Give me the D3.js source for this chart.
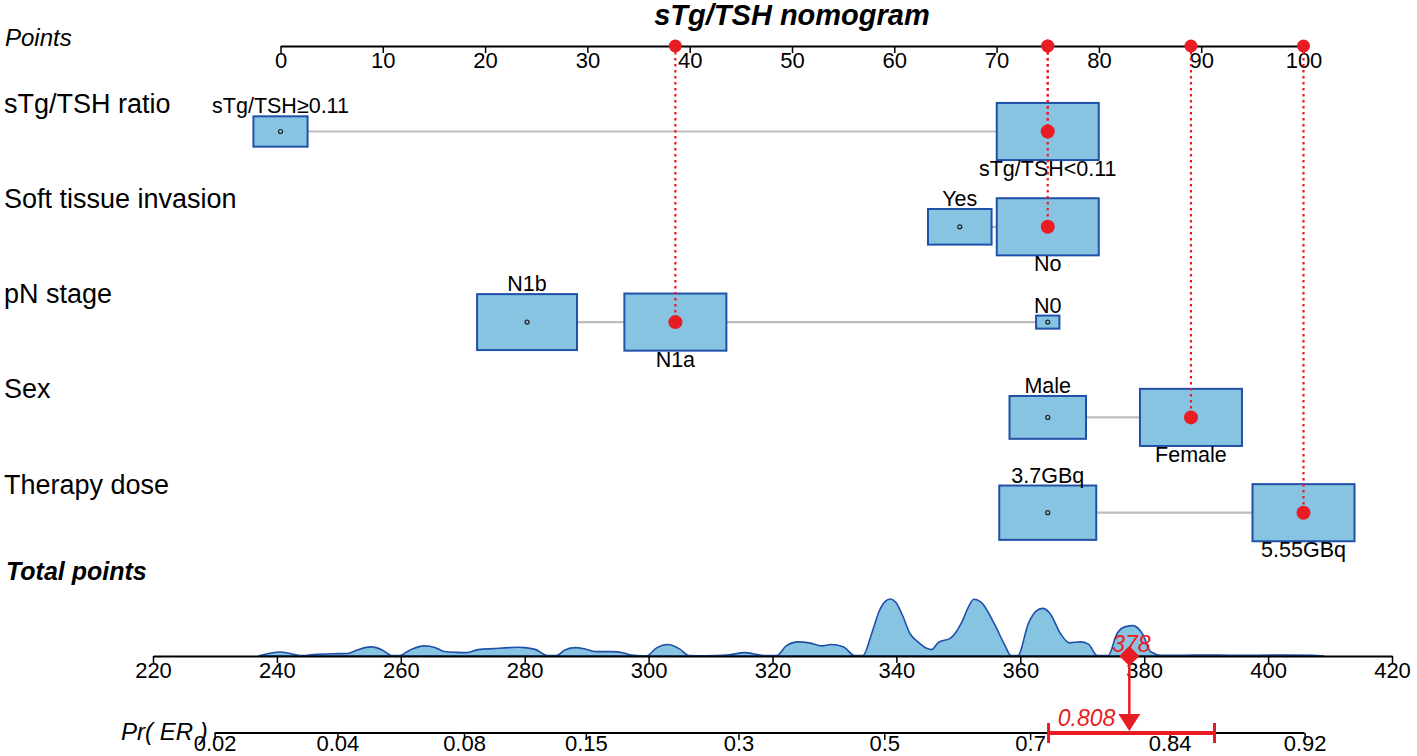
<!DOCTYPE html>
<html>
<head>
<meta charset="utf-8">
<script src="https://cdn.jsdelivr.net/npm/d3@7"></script>
<style>
  body { margin: 0; background: #fff; }
  svg { display: block; }
</style>
</head>
<body>
<div id="chart"></div>
<script>
/* global d3 */

//---------------------Data

const variables = ["sTg/TSH ratio", "Soft tissue invasion", "pN stage", "Sex", "Therapy dose"]

// levels per variable, in drawing order (label alternates above / below)
const levelNames = [
  ["sTg/TSH\u22650.11", "sTg/TSH<0.11"],
  ["Yes", "No"],
  ["N1b", "N1a", "N0"],
  ["Male", "Female"],
  ["3.7GBq", "5.55GBq"]
]

// points given to each level
const levelPoints = [
  [0, 75],
  [66.4, 75],
  [24.1, 38.6, 75],
  [75, 89],
  [75, 100]
]

// share of patients in each level (%), gives the box size
const levelShare = [
  [22, 78],
  [28, 72],
  [47.7, 49.7, 2.6],
  [36, 64],
  [47.5, 52.5]
]

// the patient shown in red
const selectedLevel = ["sTg/TSH<0.11", "No", "N1a", "Female", "5.55GBq"]

const pointTicks = [0, 10, 20, 30, 40, 50, 60, 70, 80, 90, 100]
const totalTicks = [220, 240, 260, 280, 300, 320, 340, 360, 380, 400, 420]
const probTicks = [0.02, 0.04, 0.08, 0.15, 0.3, 0.5, 0.7, 0.84, 0.92]

// logistic link between total points and Pr(ER)
const logitSlope = 0.036
const logitMid = 338.05

const predProb = 0.808
const ciLow = 0.722
const ciHigh = 0.872

// distribution of total points (relative density)
const densityTotals = [237, 240.6, 244, 246, 250, 251.4, 253, 255.2, 257, 258.5,
  259.8, 261.5, 263.8, 265.5, 267, 269, 270.6, 272.5, 275, 277.5, 279, 280, 281.8, 283.7,
  285.1, 286.5, 288.2, 290, 291.6, 294, 296, 297.2, 299, 299.7, 301.3, 303.1, 305, 306.5,
  309, 312.7, 315.5, 318.6, 320.7, 322.2, 324.2, 325.9, 328, 329.4, 331.5, 333.2,
  334.6, 336, 337.2, 338.2, 339, 339.9, 341, 342.2, 343.3, 345, 345.7, 346.7, 348.8, 350.6,
  351.6, 352.5, 353.7, 355.8, 357.5, 358.5, 359.6, 361.3, 362.5, 363.6, 364.8, 366.5, 367.9,
  369.7, 371, 372.4, 374.2, 375.6, 377, 378.2, 379.7, 381.1, 382.8, 386, 390, 394, 398,
  403, 407, 409]
const densityValues = [0, 4, 0.5, 1.5, 2.3, 2.5, 6, 9, 6, 0.5,
  0.5, 6, 10, 8.5, 4.5, 3.6, 3.3, 6.3, 7.3, 8.3, 8.7, 8.3, 6.3, 0.5,
  0.5, 6, 8.3, 6.5, 4.3, 4.3, 3, 1, 0.3, 0.3, 8, 11.3, 7, 0.5,
  0.3, 1, 3.3, 0.5, 0.5, 10, 14, 13, 10, 11.3, 9, 0.5,
  0.5, 22, 44, 54, 56.3, 53, 40, 22, 15, 7.3, 6.3, 13, 18, 34,
  48, 56, 53, 32, 10.7, 0.5, 0.5, 32, 44, 47, 42, 22, 13,
  14, 11.7, 0.5, 0.5, 22, 29, 30, 22, 4, 0.7, 0.7, 1, 0.7, 0.7,
  1, 0.8, 0]

function draw () {

  //-----------------------Dimensions

  const dimensions = {
    width: 1417,
    height: 756,
    pointsLeft: 280.5,
    pointsRight: 1303.5,
    totalLeft: 153,
    totalRight: 1392,
    pointsAxisY: 46,
    firstRowY: 131.5,
    lastRowY: 512.7,
    totalAxisY: 656,
    probAxisY: 733,
    densityHeight: 57,
    boxMaxWidth: 102,
    boxAspect: 0.56
  }

  const font = "'Liberation Sans', Arial, Helvetica, sans-serif"
  const red = "#e91c24"
  const boxFill = "#87c4e2"
  const boxStroke = "#2050a8"

  const svg = d3.select("#chart")
    .append("svg")
    .attr("width", dimensions.width)
    .attr("height", dimensions.height)
    .style("font-family", font)

  //-----------------------Scales

  const xPoints = d3.scaleLinear()
    .domain([0, 100])
    .range([dimensions.pointsLeft, dimensions.pointsRight])

  const xTotal = d3.scaleLinear()
    .domain([220, 420])
    .range([dimensions.totalLeft, dimensions.totalRight])

  const logit = p => Math.log(p / (1 - p))

  // logit(Pr) is linear in total points
  const xLogit = d3.scaleLinear()
    .domain(xTotal.domain().map(t => logitSlope * (t - logitMid)))
    .range(xTotal.range())

  const xProb = p => xLogit(logit(p))

  const yRow = d3.scalePoint()
    .domain(variables)
    .range([dimensions.firstRowY, dimensions.lastRowY])

  const boxScale = d3.scaleSqrt()
    .domain([0, 1])
    .range([0, dimensions.boxMaxWidth])

  const yDensity = d3.scaleLinear()
    .domain([0, d3.max(densityValues)])
    .range([dimensions.totalAxisY, dimensions.totalAxisY - dimensions.densityHeight])

  //-----------------------Title

  svg.append("text")
    .attr("x", (dimensions.pointsLeft + dimensions.pointsRight) / 2)
    .attr("y", 25)
    .attr("text-anchor", "middle")
    .style("font-size", "29px")
    .style("font-weight", "bold")
    .style("font-style", "italic")
    .text("sTg/TSH nomogram")

  //-----------------------Row labels

  svg.append("text")
    .attr("x", 5)
    .attr("y", dimensions.pointsAxisY)
    .style("font-size", "24px")
    .style("font-style", "italic")
    .text("Points")

  svg.selectAll(".row-label")
    .data(variables)
    .join("text")
    .attr("class", "row-label")
    .attr("x", 4)
    .attr("y", d => yRow(d) - 19)
    .style("font-size", "27px")
    .text(d => d)

  svg.append("text")
    .attr("x", 6)
    .attr("y", 580)
    .style("font-size", "25px")
    .style("font-weight", "bold")
    .style("font-style", "italic")
    .text("Total points")

  svg.append("text")
    .attr("x", 121)
    .attr("y", 740)
    .style("font-size", "24px")
    .style("font-style", "italic")
    .text("Pr( ER )")

  //-----------------------Points axis

  const pointsAxis = d3.axisBottom(xPoints)
    .tickValues(pointTicks)
    .tickSize(7)
    .tickSizeOuter(0)
    .tickPadding(-1)

  const gPoints = svg.append("g")
    .attr("transform", `translate(0,${dimensions.pointsAxisY})`)
    .call(pointsAxis)
    .attr("font-family", font)
    .attr("font-size", 22)
  gPoints.select(".domain").attr("stroke-width", 2)
  gPoints.selectAll(".tick line").attr("stroke-width", 1.5)

  //-----------------------Predictor rows

  variables.forEach((v, i) => {
    const y = yRow(v)
    const levels = levelNames[i].map((name, j) => ({
      name,
      points: levelPoints[i][j],
      share: levelShare[i][j] / d3.max(levelShare[i]),
      above: j % 2 === 0
    }))

    const row = svg.append("g").attr("class", "row")

    // grey connector
    row.append("line")
      .attr("x1", xPoints(d3.min(levels, d => d.points)))
      .attr("x2", xPoints(d3.max(levels, d => d.points)))
      .attr("y1", y)
      .attr("y2", y)
      .attr("stroke", "#bdbdbd")
      .attr("stroke-width", 2.2)

    const lev = row.selectAll("g")
      .data(levels)
      .join("g")

    lev.append("rect")
      .attr("x", d => xPoints(d.points) - boxScale(d.share) / 2)
      .attr("y", d => y - boxScale(d.share) * dimensions.boxAspect / 2)
      .attr("width", d => boxScale(d.share))
      .attr("height", d => boxScale(d.share) * dimensions.boxAspect)
      .attr("fill", boxFill)
      .attr("stroke", boxStroke)
      .attr("stroke-width", 2)

    lev.append("circle")
      .attr("cx", d => xPoints(d.points))
      .attr("cy", y)
      .attr("r", 2)
      .attr("fill", "none")
      .attr("stroke", "#222")
      .attr("stroke-width", 1.2)

    lev.append("text")
      .attr("x", d => xPoints(d.points))
      .attr("y", d => d.above
        ? y - boxScale(d.share) * dimensions.boxAspect / 2 - 3
        : y + boxScale(d.share) * dimensions.boxAspect / 2 + 16)
      .attr("text-anchor", "middle")
      .style("font-size", "21.5px")
      .text(d => d.name)
  })

  //-----------------------Selected patient (red)

  const picked = variables.map((v, i) => {
    const j = levelNames[i].indexOf(selectedLevel[i])
    return { y: yRow(v), points: levelPoints[i][j] }
  })

  svg.selectAll(".guide")
    .data(picked)
    .join("line")
    .attr("class", "guide")
    .attr("x1", d => xPoints(d.points))
    .attr("x2", d => xPoints(d.points))
    .attr("y1", dimensions.pointsAxisY)
    .attr("y2", d => d.y)
    .attr("stroke", red)
    .attr("stroke-width", 2.2)
    .attr("stroke-dasharray", "2.5,3.5")

  svg.selectAll(".pick-dot")
    .data(picked)
    .join("circle")
    .attr("class", "pick-dot")
    .attr("cx", d => xPoints(d.points))
    .attr("cy", d => d.y)
    .attr("r", 7)
    .attr("fill", red)

  svg.selectAll(".axis-dot")
    .data(picked)
    .join("circle")
    .attr("class", "axis-dot")
    .attr("cx", d => xPoints(d.points))
    .attr("cy", dimensions.pointsAxisY)
    .attr("r", 6.5)
    .attr("fill", red)

  //-----------------------Total points density + axis

  const density = densityTotals.map((t, i) => ({ t, v: densityValues[i] }))

  const area = d3.area()
    .x(d => xTotal(d.t))
    .y0(dimensions.totalAxisY)
    .y1(d => yDensity(d.v))
    .curve(d3.curveMonotoneX)

  svg.append("path")
    .datum(density)
    .attr("d", area)
    .attr("fill", boxFill)
    .attr("stroke", boxStroke)
    .attr("stroke-width", 1.6)

  const totalAxis = d3.axisBottom(xTotal)
    .tickValues(totalTicks)
    .tickSize(7)
    .tickSizeOuter(0)
    .tickPadding(-1)

  const gTotal = svg.append("g")
    .attr("transform", `translate(0,${dimensions.totalAxisY})`)
    .call(totalAxis)
    .attr("font-family", font)
    .attr("font-size", 22)
  gTotal.select(".domain").attr("stroke-width", 2)
  gTotal.selectAll(".tick line").attr("stroke-width", 1.5)

  //-----------------------Probability axis

  const probAxis = d3.axisBottom(xLogit)
    .tickValues(probTicks.map(logit))
    .tickFormat((d, i) => probTicks[i])
    .tickSize(7)
    .tickPadding(-5)

  const gProb = svg.append("g")
    .attr("transform", `translate(0,${dimensions.probAxisY})`)
    .call(probAxis)
    .attr("font-family", font)
    .attr("font-size", 22)
  gProb.select(".domain").remove()
  gProb.selectAll(".tick line").attr("stroke-width", 1.5)
  gProb.append("line")
    .attr("x1", xProb(probTicks[0]))
    .attr("x2", xProb(probTicks[probTicks.length - 1]))
    .attr("stroke", "#000")
    .attr("stroke-width", 2)

  //-----------------------Prediction marker

  const total = d3.sum(picked, d => d.points)
  const xT = xTotal(total)

  svg.append("text")
    .attr("x", xT + 2)
    .attr("y", dimensions.totalAxisY - 4)
    .attr("text-anchor", "middle")
    .attr("fill", red)
    .style("font-size", "23px")
    .style("font-style", "italic")
    .text(Math.round(total))

  svg.append("line")
    .attr("x1", xT)
    .attr("x2", xT)
    .attr("y1", dimensions.totalAxisY)
    .attr("y2", dimensions.probAxisY - 18)
    .attr("stroke", red)
    .attr("stroke-width", 2.5)

  svg.append("path")
    .attr("d", d3.symbol(d3.symbolSquare, 200)())
    .attr("transform", `translate(${xT},${dimensions.totalAxisY}) rotate(45)`)
    .attr("fill", red)

  svg.append("path")
    .attr("d", `M${xT - 11},${dimensions.probAxisY - 19}L${xT + 11},${dimensions.probAxisY - 19}L${xT},${dimensions.probAxisY - 2}Z`)
    .attr("fill", red)

  // confidence interval on Pr axis
  svg.append("line")
    .attr("x1", xProb(ciLow))
    .attr("x2", xProb(ciHigh))
    .attr("y1", dimensions.probAxisY)
    .attr("y2", dimensions.probAxisY)
    .attr("stroke", red)
    .attr("stroke-width", 4)

  svg.selectAll(".ci-cap")
    .data([ciLow, ciHigh])
    .join("line")
    .attr("class", "ci-cap")
    .attr("x1", d => xProb(d))
    .attr("x2", d => xProb(d))
    .attr("y1", dimensions.probAxisY - 10)
    .attr("y2", dimensions.probAxisY + 10)
    .attr("stroke", red)
    .attr("stroke-width", 3)

  svg.append("text")
    .attr("x", xT - 14)
    .attr("y", dimensions.probAxisY - 7)
    .attr("text-anchor", "end")
    .attr("fill", red)
    .style("font-size", "23px")
    .style("font-style", "italic")
    .text(predProb)
}

draw()
</script>
</body>
</html>
